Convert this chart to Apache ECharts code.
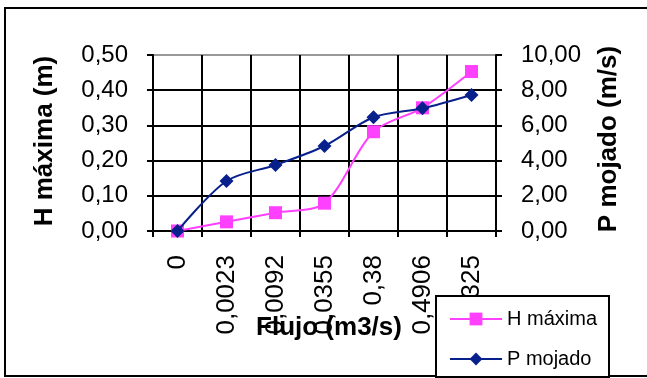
<!DOCTYPE html>
<html>
<head>
<meta charset="utf-8">
<script src="https://cdn.jsdelivr.net/npm/echarts@6/dist/echarts.min.js"></script>
<style>
html,body{margin:0;padding:0;background:#fff;}
#chart{width:647px;height:378px;}
</style>
</head>
<body>
<div id="chart"></div>
<script>
var categories = ['0', '0,0023', '0,0092', '0,0355', '0,38', '0,4906', '0,8325'];
var hMaxima = [0.000, 0.026, 0.052, 0.079, 0.282, 0.350, 0.453];
var pMojado = [0.00, 2.84, 3.75, 4.83, 6.46, 6.97, 7.73];
var leftTickLabels = ['0,00', '0,10', '0,20', '0,30', '0,40', '0,50'];
var rightTickLabels = ['0,00', '2,00', '4,00', '6,00', '8,00', '10,00'];

var FONT = '"Liberation Sans", Arial, sans-serif';
var chart = echarts.init(document.getElementById('chart'), null, {renderer: 'canvas'});

var option = {
  backgroundColor: '#ffffff',
  animation: false,
  textStyle: {fontFamily: FONT},
  grid: {left: 153, right: 151, top: 55, bottom: 147, containLabel: false},
  legend: {
    orient: 'vertical',
    left: 449,
    top: 309,
    padding: 0,
    itemGap: 20,
    itemWidth: 52,
    itemHeight: 16,
    z: 120,
    textStyle: {fontFamily: FONT, fontSize: 20, color: '#000', lineHeight: 20, padding: [0, 0, 0, 0]},
    data: ['H máxima', 'P mojado']
  },
  xAxis: {
    type: 'category',
    data: categories,
    boundaryGap: true,
    axisLine: {show: true, lineStyle: {color: '#000', width: 2}},
    axisTick: {show: true, length: 6, lineStyle: {color: '#000', width: 2}},
    splitLine: {show: true, lineStyle: {color: '#000', width: 2}},
    axisLabel: {rotate: 90, margin: 24, fontSize: 26, color: '#000', fontFamily: FONT, interval: 0}
  },
  yAxis: [
    {
      type: 'value', min: 0, max: 0.5, interval: 0.1, position: 'left',
      axisLine: {show: true, lineStyle: {color: '#000', width: 2}},
      axisTick: {show: true, length: 6, lineStyle: {color: '#000', width: 2}},
      splitLine: {show: true, lineStyle: {color: ['#000', '#000', '#000', '#000', '#000', '#999'], width: 2}},
      axisLabel: {
        margin: 25, fontSize: 24, color: '#000', fontFamily: FONT, padding: [4, 0, 0, 0],
        formatter: function (v) { return leftTickLabels[Math.round(v * 10)]; }
      }
    },
    {
      type: 'value', min: 0, max: 10, interval: 2, position: 'right',
      axisLine: {show: true, lineStyle: {color: '#000', width: 2}},
      axisTick: {show: true, length: 6, lineStyle: {color: '#000', width: 2}},
      splitLine: {show: false},
      axisLabel: {
        margin: 25, fontSize: 24, color: '#000', fontFamily: FONT, padding: [4, 0, 0, 0],
        formatter: function (v) { return rightTickLabels[Math.round(v / 2)]; }
      }
    }
  ],
  series: [
    {
      name: 'H máxima', type: 'line', yAxisIndex: 0, data: hMaxima,
      smooth: 0.3, symbol: 'rect', symbolSize: 13,
      lineStyle: {color: '#ff40ff', width: 2},
      itemStyle: {color: '#ff40ff'}, z: 3
    },
    {
      name: 'P mojado', type: 'line', yAxisIndex: 1, data: pMojado,
      smooth: 0.3, symbol: 'diamond', symbolSize: 14,
      lineStyle: {color: '#08208c', width: 2},
      itemStyle: {color: '#08208c'}, z: 4
    }
  ],
  graphic: [
    {type: 'rect', z: 50, silent: true, shape: {x: 5, y: 8, width: 700, height: 368},
      style: {fill: 'none', stroke: '#000', lineWidth: 2}},
    {type: 'text', z: 60, x: 45, y: 141, rotation: Math.PI / 2,
      style: {text: 'H máxima (m)', font: 'bold 26px ' + FONT, fill: '#000', textAlign: 'center', textVerticalAlign: 'middle'}},
    {type: 'text', z: 60, x: 609, y: 139, rotation: Math.PI / 2,
      style: {text: 'P mojado (m/s)', font: 'bold 26px ' + FONT, fill: '#000', textAlign: 'center', textVerticalAlign: 'middle'}},
    {type: 'text', z: 60, x: 329, y: 328,
      style: {text: 'Flujo (m3/s)', font: 'bold 26px ' + FONT, fill: '#000', textAlign: 'center', textVerticalAlign: 'middle'}},
    {type: 'rect', z: 100, silent: true, shape: {x: 436, y: 296, width: 173, height: 81},
      style: {fill: '#fff', stroke: '#000', lineWidth: 2}}
  ]
};
chart.setOption(option);
</script>
</body>
</html>
